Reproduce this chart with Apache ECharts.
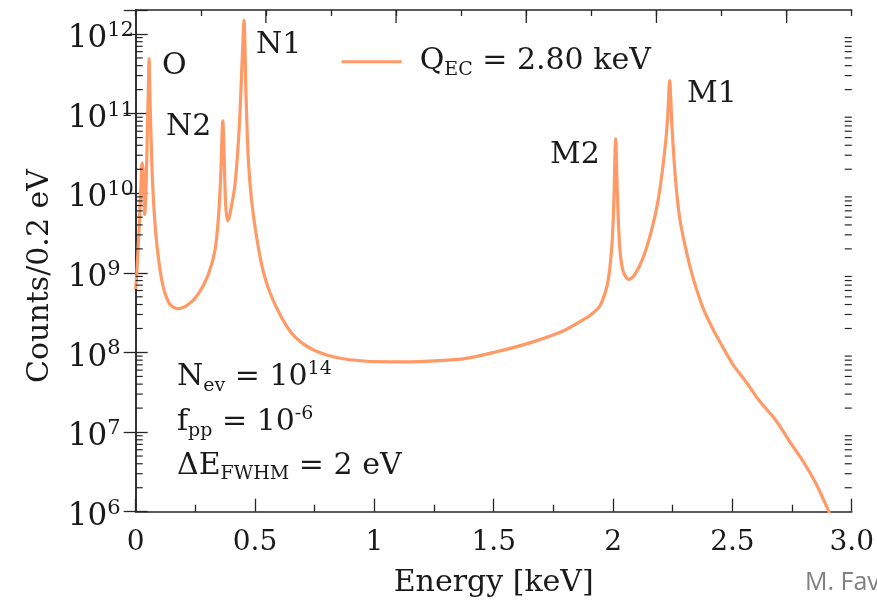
<!DOCTYPE html>
<html>
<head>
<meta charset="utf-8">
<script src="https://cdn.jsdelivr.net/npm/echarts@6/dist/echarts.min.js"></script>
<style>
  html, body { margin: 0; padding: 0; background: #ffffff; }
  #chart { width: 877px; height: 606px; }
</style>
</head>
<body>
<div id="chart"></div>
<script>
// Simulated EC spectrum, Q_EC = 2.80 keV (counts per 0.2 eV bin)
const energyKeV = [
  0.000, 0.005, 0.015, 0.022, 0.027, 0.031, 0.038, 0.044, 0.050, 0.054,
  0.056, 0.059, 0.063, 0.071, 0.081, 0.095, 0.116, 0.144, 0.178, 0.220,
  0.262, 0.304, 0.332, 0.346, 0.356, 0.365, 0.371, 0.377, 0.385, 0.395,
  0.416, 0.434, 0.446, 0.454, 0.462, 0.472, 0.486, 0.507, 0.534, 0.576,
  0.646, 0.716, 0.800, 0.897, 1.065, 1.232, 1.372, 1.512, 1.651, 1.791,
  1.874, 1.902, 1.944, 1.973, 1.984, 1.994, 1.999, 2.003, 2.011, 2.018,
  2.028, 2.042, 2.066, 2.091, 2.126, 2.161, 2.188, 2.212, 2.228, 2.237,
  2.247, 2.261, 2.279, 2.307, 2.335, 2.377, 2.419, 2.461, 2.502, 2.559,
  2.614, 2.684, 2.740, 2.796, 2.852, 2.900, 2.915
];
const counts = [
  6.3e8, 1.05e9, 3.9e9, 1.23e10, 2.4e10, 1.9e10, 5.4e9, 1.4e10, 8.1e10, 2.95e11,
  4.9e11, 1.95e11, 6.8e10, 1.29e10, 4.1e9, 1.55e9, 6.5e8, 4.0e8, 3.55e8, 4.0e8,
  5.4e8, 9.5e8, 1.9e9, 4.7e9, 1.58e10, 8.1e10, 2.6e10, 7.2e9, 4.5e9, 5.5e9,
  1.29e10, 6.8e10, 4.6e11, 1.48e12, 1.78e11, 2.6e10, 7.9e9, 2.75e9, 1.05e9, 4.5e8,
  1.86e8, 1.2e8, 9.3e7, 8.1e7, 7.6e7, 7.8e7, 8.3e7, 1.02e8, 1.32e8, 1.86e8,
  2.57e8, 2.9e8, 3.8e8, 6.5e8, 1.0e9, 2.0e9, 3.55e9, 7.1e9, 4.8e10, 9.8e9,
  2.1e9, 1.05e9, 8.3e8, 9.5e8, 1.55e9, 3.4e9, 7.9e9, 2.6e10, 8.1e10, 2.6e11,
  6.8e10, 1.58e10, 4.9e9, 1.86e9, 8.7e8, 3.6e8, 1.95e8, 1.15e8, 7.1e7, 4.2e7,
  2.45e7, 1.38e7, 7.6e6, 4.3e6, 2.2e6, 1.07e6, 8.3e5
];
const seriesName = 'QEC = 2.80 keV';

// Axis ticks and labels
const xTickValues = [0, 0.5, 1, 1.5, 2, 2.5, 3];
const xTickLabels = ['0', '0.5', '1', '1.5', '2', '2.5', '3.0'];
const yDecades = [6, 7, 8, 9, 10, 11, 12];
const topMajorTicks = [2, 4, 6, 8, 10];

const SERIF = 'DejaVu Serif';
const INK = '#1a1a1a';
const FRAME = '#262626';
const LINE = '#ff9966';

const lineData = energyKeV.map((e, i) => [e, counts[i]]);

// log-spaced minor ticks (2..9 x 10^n) for both vertical frame sides
const minorTickValues = [];
for (let d = 0; d < yDecades.length - 1; d++) {
  for (let k = 2; k <= 9; k++) minorTickValues.push([0, k * Math.pow(10, yDecades[d])]);
}

function renderSideTicks(params, api) {
  const cs = params.coordSys;
  const y = api.coord([0, api.value(1)])[1];
  const len = 7;
  const st = { stroke: FRAME, lineWidth: 1.2 };
  return {
    type: 'group',
    children: [
      { type: 'line', shape: { x1: cs.x, y1: y, x2: cs.x + len, y2: y }, style: st },
      { type: 'line', shape: { x1: cs.x + cs.width - len, y1: y, x2: cs.x + cs.width, y2: y }, style: st }
    ]
  };
}

function renderTopTicks(params, api) {
  const cs = params.coordSys;
  const x = api.coord([api.value(0), 1e9])[0];
  return {
    type: 'line',
    shape: { x1: x, y1: cs.y, x2: x, y2: cs.y + 13 },
    style: { stroke: FRAME, lineWidth: 1.3 }
  };
}

const textRich = {
  m:   { fontFamily: SERIF, fontSize: 30, lineHeight: 36, fill: INK, color: INK },
  sub: { fontFamily: SERIF, fontSize: 19, lineHeight: 19, verticalAlign: 'bottom', fill: INK, color: INK },
  sup: { fontFamily: SERIF, fontSize: 19, lineHeight: 19, verticalAlign: 'top', fill: INK, color: INK }
};

function label(x, y, text) {
  return {
    type: 'text', x: x, y: y, silent: true,
    style: { text: text, font: '30px "' + SERIF + '"', fill: INK, align: 'left', verticalAlign: 'middle' }
  };
}
function richLabel(x, y, text) {
  return {
    type: 'text', x: x, y: y, silent: true,
    style: { text: text, rich: textRich, font: '30px "' + SERIF + '"', fill: INK, align: 'left', verticalAlign: 'middle' }
  };
}

const axisLineStyle = { color: FRAME, width: 1.5 };
const tickLineStyle = { color: FRAME, width: 1.3 };

const option = {
  backgroundColor: '#ffffff',
  animation: false,
  grid: { left: 135.7, right: 24.7, top: 10, bottom: 94.3 },
  legend: {
    data: [seriesName],
    left: 341.7,
    top: 46.7,
    padding: 0,
    itemWidth: 60,
    itemHeight: 3,
    icon: 'rect',
    selectedMode: false,
    formatter: () => '{q0|Q}{sub|EC}{q| = 2.80 keV}',
    textStyle: {
      rich: {
        q0:  { fontFamily: SERIF, fontSize: 30, lineHeight: 36, color: INK, padding: [0, 0, 0, 13] },
        q:   { fontFamily: SERIF, fontSize: 30, lineHeight: 36, color: INK },
        sub: { fontFamily: SERIF, fontSize: 19, lineHeight: 19, verticalAlign: 'bottom', color: INK }
      }
    }
  },
  xAxis: [
    {
      type: 'value', min: 0, max: 3, interval: 0.5, position: 'bottom',
      axisLine: { show: true, lineStyle: axisLineStyle },
      axisTick: { show: true, inside: true, length: 13, lineStyle: tickLineStyle },
      minorTick: { show: true, splitNumber: 2, length: 7, lineStyle: tickLineStyle },
      splitLine: { show: false },
      minorSplitLine: { show: false },
      axisLabel: {
        margin: 17, color: INK, fontFamily: SERIF, fontSize: 28, lineHeight: 28,
        formatter: v => {
          const i = xTickValues.findIndex(t => Math.abs(t - v) < 1e-9);
          return i >= 0 ? xTickLabels[i] : '';
        }
      },
      name: 'Energy [keV]', nameLocation: 'middle', nameGap: 57,
      nameTextStyle: { fontFamily: SERIF, fontSize: 30, color: INK, lineHeight: 30 }
    },
    {
      type: 'value', min: 0, max: 11, interval: 1, position: 'top',
      axisLine: { show: true, lineStyle: axisLineStyle },
      axisTick: { show: true, inside: true, length: 6, lineStyle: tickLineStyle },
      axisLabel: { show: false },
      splitLine: { show: false }
    }
  ],
  yAxis: [
    {
      type: 'log', logBase: 10, min: 1e6, max: 2e12, interval: 1, position: 'left',
      axisLine: { show: true, lineStyle: axisLineStyle },
      axisTick: { show: true, inside: true, length: 12, lineStyle: tickLineStyle },
      splitLine: { show: false },
      axisLabel: {
        align: 'left', margin: 68, padding: [10, 0, 0, 0],
        formatter: v => {
          const n = Math.log10(v);
          const r = Math.round(n);
          if (Math.abs(n - r) > 1e-6 || yDecades.indexOf(r) < 0) return '';
          return '{b|10}{s|' + r + '}';
        },
        rich: {
          b: { fontFamily: SERIF, fontSize: 31, lineHeight: 38, color: INK },
          s: { fontFamily: SERIF, fontSize: 21, lineHeight: 20, verticalAlign: 'top', color: INK }
        }
      }
    },
    {
      type: 'log', logBase: 10, min: 1e6, max: 2e12, interval: 1, position: 'right',
      axisLine: { show: true, lineStyle: axisLineStyle },
      axisTick: { show: true, inside: true, length: 12, lineStyle: tickLineStyle },
      splitLine: { show: false },
      axisLabel: { show: false }
    }
  ],
  series: [
    {
      name: seriesName, type: 'line', xAxisIndex: 0, yAxisIndex: 0,
      data: lineData, showSymbol: false, symbol: 'none',
      smooth: 0.3, clip: true,
      color: LINE,
      lineStyle: { color: LINE, width: 3.2 },
      itemStyle: { color: LINE },
      z: 3
    },
    {
      name: 'minor-y-ticks', type: 'custom', xAxisIndex: 0, yAxisIndex: 0,
      data: minorTickValues, renderItem: renderSideTicks, silent: true, clip: false, z: 4
    },
    {
      name: 'top-major-ticks', type: 'custom', xAxisIndex: 1, yAxisIndex: 0,
      data: topMajorTicks.map(v => [v, 1e9]), renderItem: renderTopTicks, silent: true, clip: false, z: 4
    }
  ],
  graphic: [
    // peak labels
    label(162, 66, 'O'),
    label(256, 45, 'N1'),
    label(166, 127, 'N2'),
    label(550, 155, 'M2'),
    label(687, 94.5, 'M1'),
    // run parameters
    richLabel(177, 377.5, '{m|N}{sub|ev}{m| = 10}{sup|14}'),
    richLabel(177, 422.5, '{m|f}{sub|pp}{m| = 10}{sup|-6}'),
    richLabel(177, 466, '{m|ΔE}{sub|FWHM}{m| = 2 eV}'),
    // y-axis title
    {
      type: 'text', x: 40, y: 276, rotation: Math.PI / 2, silent: true,
      style: { text: 'Counts/0.2 eV', font: '30px "' + SERIF + '"', fill: INK, align: 'center', verticalAlign: 'middle' }
    },
    // credit
    {
      type: 'text', x: 805, y: 583, silent: true,
      style: { text: 'M. Faverzani', font: '25px "Open Sans"', fill: '#808080', align: 'left', verticalAlign: 'middle' }
    }
  ]
};

const chart = echarts.init(document.getElementById('chart'), null, { renderer: 'canvas' });
chart.setOption(option);
</script>
</body>
</html>
